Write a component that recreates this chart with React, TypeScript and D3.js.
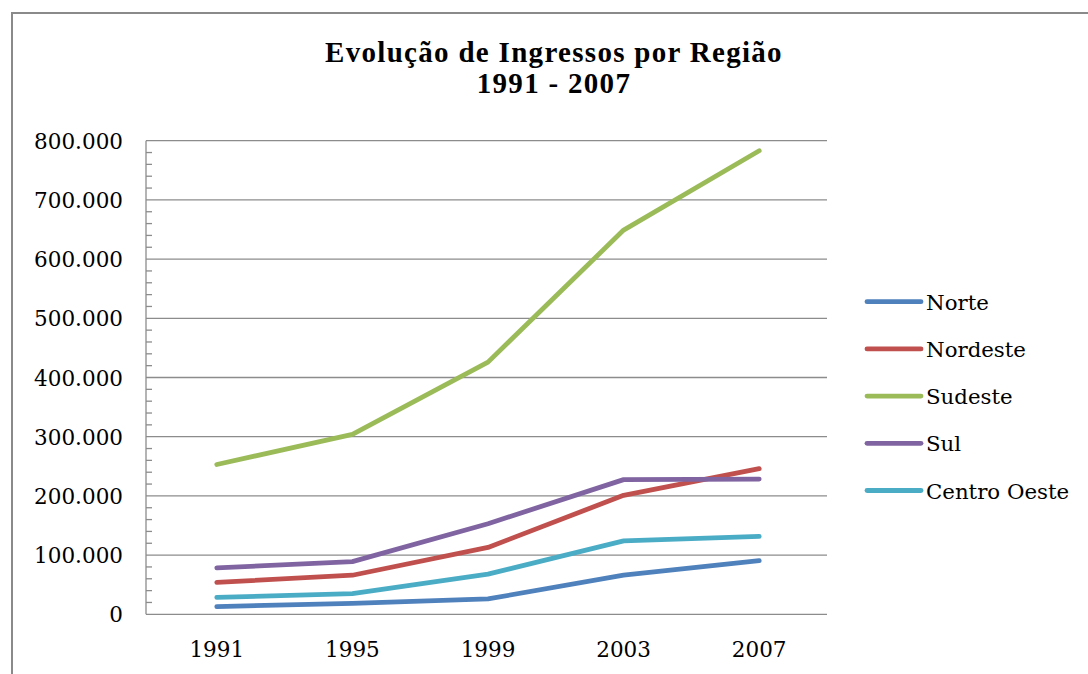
import React, { useEffect, useRef } from "react";
import * as d3 from "d3";

// data
const years = ["1991", "1995", "1999", "2003", "2007"];
const norte = [13000, 18500, 26000, 66000, 90500];
const nordeste = [54000, 66000, 113000, 201000, 246000];
const sudeste = [253000, 304000, 426000, 649000, 783000];
const sul = [78500, 89000, 153000, 227500, 228500];
const centroOeste = [28500, 35000, 68000, 124000, 131500];
const yTicks = [0, 100000, 200000, 300000, 400000, 500000, 600000, 700000, 800000];

const seriesNames = ["Norte", "Nordeste", "Sudeste", "Sul", "Centro Oeste"];
const seriesColors = ["#4F81BD", "#C0504D", "#9BBB59", "#8064A2", "#4BACC6"];

const W = 1088;
const H = 674;
const FONT = "'DejaVu Serif', serif";

const App = () => {
  const svgRef = useRef(null);

  useEffect(() => {
    const svg = d3.select(svgRef.current);
    svg.selectAll("*").remove();

    const allSeries = [norte, nordeste, sudeste, sul, centroOeste];

    // plot area
    const left = 146, right = 827, top = 140.7, bottom = 614.3;

    var x = d3.scalePoint().domain(years).range([149, 827]).padding(0.5);
    var y = d3.scaleLinear().domain([0, 800000]).range([bottom, top]);

    var locale = d3.formatLocale({ decimal: ",", thousands: ".", grouping: [3], currency: ["R$", ""] });
    var fmt = locale.format(",d");

    // outer frame
    svg.append("rect")
      .attr("x", 12).attr("y", 13)
      .attr("width", W + 20).attr("height", H + 20)
      .attr("fill", "none")
      .attr("stroke", "#8a8a8a")
      .attr("stroke-width", 2);

    // title (two separate lines)
    svg.append("g")
      .selectAll("text")
      .data(["Evolução de Ingressos por Região", "1991 - 2007"])
      .join("text")
      .attr("x", 554)
      .attr("y", (d, i) => 62 + i * 31)
      .attr("text-anchor", "middle")
      .attr("font-family", "'Liberation Serif', serif")
      .attr("font-weight", "bold")
      .attr("font-size", 29)
      .attr("letter-spacing", "1.3px")
      .attr("fill", "#000")
      .text((d) => d);

    // gridlines
    svg.append("g")
      .selectAll("line")
      .data(yTicks)
      .join("line")
      .attr("x1", left).attr("x2", right)
      .attr("y1", (d) => y(d)).attr("y2", (d) => y(d))
      .attr("stroke", "#8c8c8c")
      .attr("stroke-width", 1.3);

    // minor ticks every 20.000, pointing inward
    const minor = d3.range(0, 800001, 20000).filter((d) => d % 100000 !== 0);
    svg.append("g")
      .selectAll("line")
      .data(minor)
      .join("line")
      .attr("x1", left).attr("x2", left + 6)
      .attr("y1", (d) => y(d)).attr("y2", (d) => y(d))
      .attr("stroke", "#8c8c8c")
      .attr("stroke-width", 1.3);

    // y axis line
    svg.append("line")
      .attr("x1", left).attr("x2", left)
      .attr("y1", top).attr("y2", bottom)
      .attr("stroke", "#8c8c8c")
      .attr("stroke-width", 1.3);

    // y labels
    svg.append("g")
      .selectAll("text")
      .data(yTicks)
      .join("text")
      .attr("x", 123)
      .attr("y", (d) => y(d) + 8)
      .attr("text-anchor", "end")
      .attr("font-family", FONT)
      .attr("font-size", 21.5)
      .attr("fill", "#000")
      .text((d) => fmt(d));

    // x labels
    svg.append("g")
      .selectAll("text")
      .data(years)
      .join("text")
      .attr("x", (d) => x(d))
      .attr("y", 657)
      .attr("text-anchor", "middle")
      .attr("font-family", FONT)
      .attr("font-size", 21.5)
      .attr("fill", "#000")
      .text((d) => d);

    // lines
    var line = d3.line()
      .x((d, i) => x(years[i]))
      .y((d) => y(d));

    svg.append("g")
      .selectAll("path")
      .data(allSeries)
      .join("path")
      .attr("d", (d) => line(d))
      .attr("fill", "none")
      .attr("stroke", (d, i) => seriesColors[i])
      .attr("stroke-width", 4.8)
      .attr("stroke-linecap", "round")
      .attr("stroke-linejoin", "round");

    // legend
    const legend = svg.append("g")
      .selectAll("g")
      .data(seriesNames)
      .join("g")
      .attr("transform", (d, i) => "translate(867," + (301.7 + i * 47.2) + ")");

    legend.append("line")
      .attr("x1", 0).attr("x2", 54)
      .attr("stroke", (d, i) => seriesColors[i])
      .attr("stroke-width", 4.8)
      .attr("stroke-linecap", "round");

    legend.append("text")
      .attr("x", 59)
      .attr("y", 8)
      .attr("font-family", FONT)
      .attr("font-size", 21.3)
      .attr("fill", "#000")
      .text((d) => d);
  }, []);

  return (
    <svg ref={svgRef} width={W} height={H}
      style={{ position: "absolute", left: 0, top: 0, background: "#fff" }} />
  );
};

export default App;
